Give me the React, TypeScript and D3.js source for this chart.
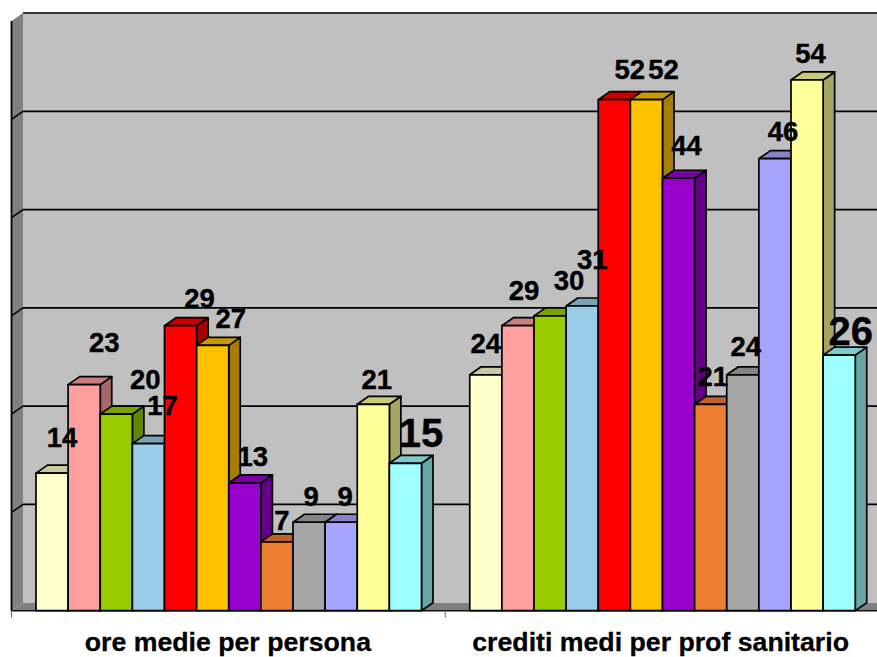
import React from "react";
import * as d3 from "d3";

const categories = ["ore medie per persona", "crediti medi per prof sanitario"];
const seriesNames = ["s1","s2","s3","s4","s5","s6","s7","s8","s9","s10","s11","s12"];
const oreMedie = [14, 23, 20, 17, 29, 27, 13, 7, 9, 9, 21, 15];
const creditiMedi = [24, 29, 30, 31, 52, 52, 44, 21, 24, 46, 54, 26];
const colors = ["#FFFFCC","#FF9F9F","#99CC00","#99CCE6","#FF0000","#FFC000","#9900CC","#ED7D31","#A6A6A6","#A6A6FF","#FFFF99","#9FFFFF"];
const gridValues = [0, 10, 20, 30, 40, 50, 60];

// Hand-placed label offsets from the bar's top centre (layout, not data)
const labelShift = [
  [[10,-36],[20,-42],[29,-35],[14,-38],[19,-27],[18,-27],[8,-26],[5,-21],[2,-26],[4,-26],[3.5,-25],[15.5,-30]],
  [[0,-31],[6,-35],[19,-35],[10,-47],[15.5,-30],[17,-30],[8,-33],[2,-28],[3,-28],[8,-27],[3.5,-26],[11.5,-24]],
];

const W = 877, H = 657;
const DX = 11.5, DY = 8;
const LEFT = 11.5, RIGHT = 879;
const BASE = 610.7;

export default function App() {
  const y = d3.scaleLinear().domain([0, 60]).range([BASE, 21]);
  const x0 = d3.scaleBand<string>().domain(categories).range([LEFT, RIGHT]);
  const x1 = d3.scaleBand<string>().domain(seriesNames).range([24.5, 410]);
  const groups = [oreMedie, creditiMedi];
  const bw = x1.bandwidth();
  const poly = (pts: number[][]) => pts.map((p) => p.join(",")).join(" ");
  const stroke = "#000";

  return (
    <svg width={W} height={H} style={{ position: "absolute", left: 0, top: 0, background: "#fff" }} fontFamily="'Liberation Sans', Arial, sans-serif">
      <rect x={LEFT + DX} y={y(60) - DY} width={W} height={y(0) - y(60)} fill="#C0C0C0" />
      <polygon points={poly([[LEFT, y(60)], [LEFT + DX, y(60) - DY], [LEFT + DX, y(0) - DY], [LEFT, y(0)]])} fill="#808080" />
      <polygon points={poly([[LEFT, y(0)], [LEFT + DX, y(0) - DY], [W + 5, y(0) - DY], [W + 5, y(0)]])} fill="#808080" />
      {gridValues.map((v) => (
        <g key={v} stroke="#000" fill="none">
          {v > 0 && <line x1={LEFT + DX} x2={W} y1={y(v) - DY} y2={y(v) - DY} strokeWidth={v === 60 ? 1.3 : 1.7} />}
          {v > 0 && v < 60 && <line x1={LEFT} x2={LEFT + DX} y1={y(v)} y2={y(v) - DY} strokeWidth={1.5} />}
        </g>
      ))}
      <line x1={LEFT} x2={LEFT} y1={y(60)} y2={y(0)} stroke="#000" strokeWidth={1.8} />
      <line x1={LEFT} x2={W} y1={y(0)} y2={y(0)} stroke="#111" strokeWidth={1.5} />
      {categories.map((c) => (
        <line key={c} x1={x0(c)!} x2={x0(c)!} y1={y(0)} y2={y(0) + 7} stroke="#666" strokeWidth={1} />
      ))}

      {categories.map((c, gi) =>
        groups[gi].map((v, i) => {
          const bx = x0(c)! + x1(seriesNames[i])!;
          const top = y(v);
          const col = d3.color(colors[i])!;
          return (
            <g key={c + i} stroke={stroke} strokeWidth={1.7} strokeLinejoin="round">
              <polygon points={poly([[bx + bw, top], [bx + bw + DX, top - DY], [bx + bw + DX, BASE - DY], [bx + bw, BASE]])} fill={col.darker(1.2).formatHex()} />
              <polygon points={poly([[bx, top], [bx + DX, top - DY], [bx + bw + DX, top - DY], [bx + bw, top]])} fill={col.darker(0.65).formatHex()} />
              <rect x={bx} y={top} width={bw} height={BASE - top} fill={colors[i]} />
            </g>
          );
        })
      )}

      {categories.map((c, gi) =>
        groups[gi].map((v, i) => {
          const bx = x0(c)! + x1(seriesNames[i])!;
          const [dx, dy] = labelShift[gi][i];
          return (
            <text key={c + i} x={bx + bw / 2 + dx} y={y(v) + dy} textAnchor="middle" dominantBaseline="central"
              fontWeight="bold" fontSize={i === 11 ? 40 : 27.5} fill="#000" stroke="#000" strokeWidth={0.4}>
              {v}
            </text>
          );
        })
      )}

      {categories.map((c) => (
        <text key={c} x={x0(c)! + x0.bandwidth() / 2 + (c === categories[0] ? -0.5 : -1.5)} y={651} textAnchor="middle" fontWeight="bold" fontSize={26.7} fill="#000" stroke="#000" strokeWidth={0.3}>
          {c}
        </text>
      ))}
    </svg>
  );
}
